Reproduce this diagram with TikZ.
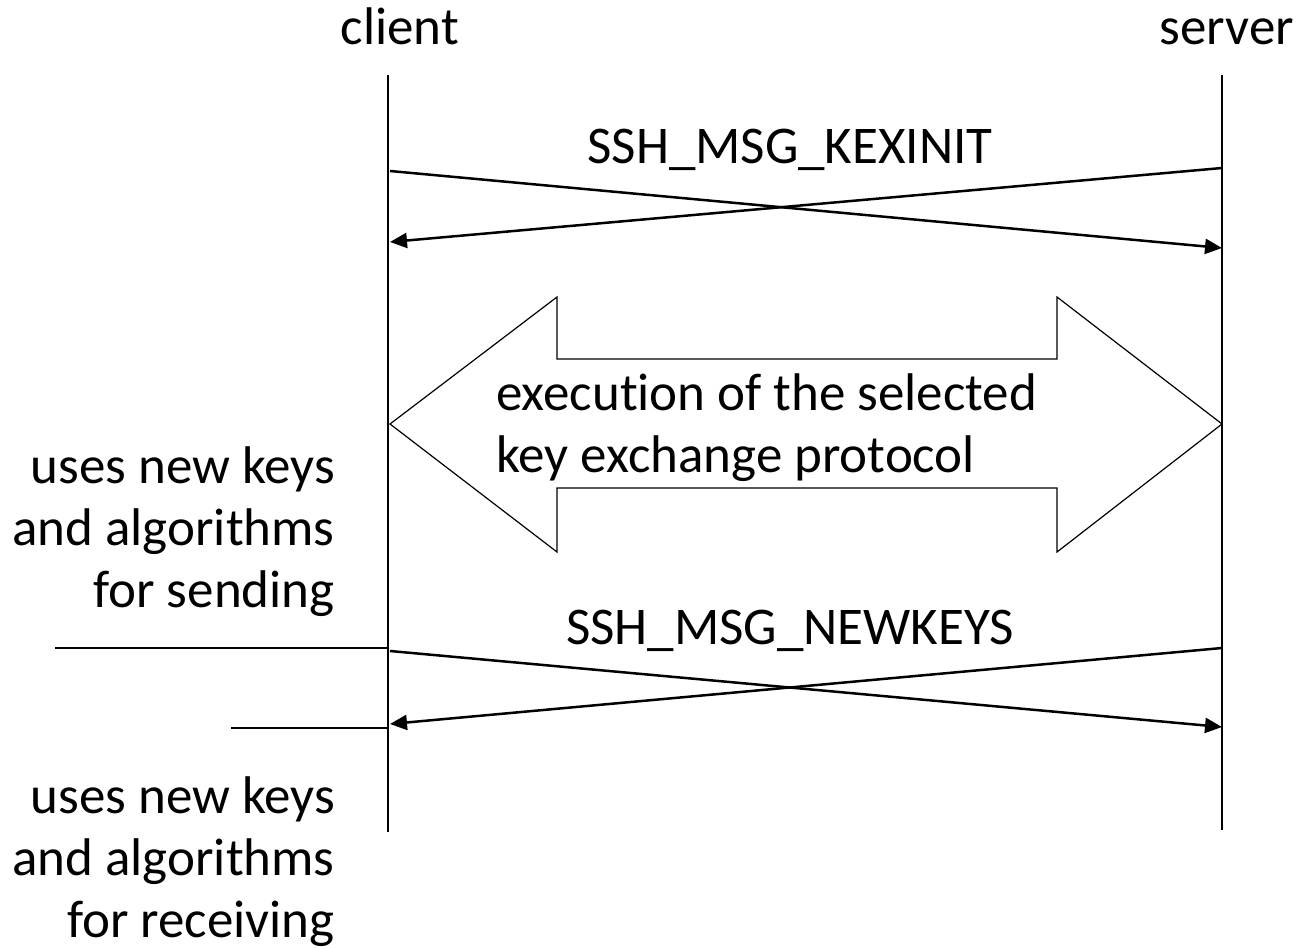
\documentclass[tikz,border=0pt]{standalone}
\usepackage{fontspec}
\setmainfont[Ligatures=NoCommon]{Carlito}
\usetikzlibrary{arrows.meta}
\begin{document}
\begin{tikzpicture}[x=1pt, y=-1pt, line width=2.5pt, >={Triangle[length=17pt,width=15pt]},
  lbl/.style={inner sep=0, font=\fontsize{53}{62}\selectfont}]
\useasboundingbox (0,0) rectangle (1303,949);
% lifelines
\node[lbl, anchor=base] (cli) at (400,45){client};
\node[lbl, anchor=base] (srv) at (1227,45){server};
\coordinate (cli0) at (388,75);
\coordinate (cli1) at (388,832);
\coordinate (srv0) at (1222,75);
\coordinate (srv1) at (1222,830);
\draw[](cli0) -- (cli1);
\draw[](srv0) -- (srv1);
% kexinit
\node[lbl, anchor=base] (kex) at (790,164){SSH\_MSG\_KEXINIT};
\coordinate (kexc0) at (390,171);
\coordinate (kexs0) at (1222,248);
\coordinate (kexs1) at (1222,168);
\coordinate (kexc1) at (390,242);
\draw[->](kexc0) -- (kexs0);
\draw[->](kexs1) -- (kexc1);
% key exchange
\draw[line width=1.2pt] (390,424) -- (557,297) -- (557,359) -- (1057,359) -- (1057,297)
  -- (1222,424) -- (1057,552) -- (1057,488) -- (557,488) -- (557,552) -- cycle;
\node[lbl, anchor=base west, align=left] (kx) at (495,472){execution of the selected\\key exchange protocol};
% newkeys
\node[lbl, anchor=base] (nk) at (790,644){SSH\_MSG\_NEWKEYS};
\coordinate (nkc0) at (390,651);
\coordinate (nks0) at (1222,727);
\coordinate (nks1) at (1222,648);
\coordinate (nkc1) at (390,724);
\draw[->](nkc0) -- (nks0);
\draw[->](nks1) -- (nkc1);
% switch points
\coordinate (snd) at (55,648);
\coordinate (rcv) at (231,728);
\draw[](snd) -- (cli0 |- snd);
\draw[](rcv) -- (cli0 |- rcv);
\node[lbl, anchor=base east, align=right] (usnd) at (336,607){uses new keys\\and algorithms\\for sending};
\node[lbl, anchor=base east, align=right] (urcv) at (336,937){uses new keys\\and algorithms\\for receiving};
\end{tikzpicture}
\end{document}
